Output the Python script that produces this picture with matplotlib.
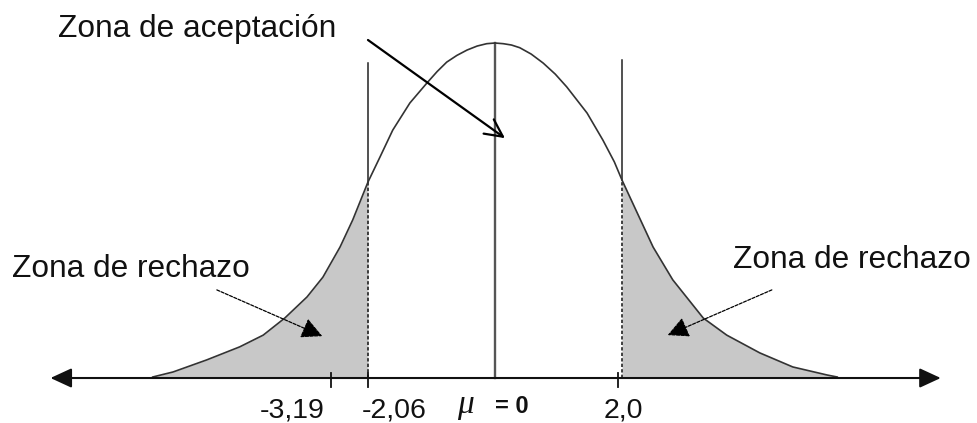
import numpy as np
import matplotlib
matplotlib.use("Agg")
import matplotlib.pyplot as plt

# ---- data (schematic units: x in "z-like" units, y = relative height) ----
curve_x = [-5.39, -5.07, -4.54, -4.02, -3.65, -3.31, -2.96, -2.71, -2.44, -2.24, -2.0,
           -1.81, -1.61, -1.34, -1.07, -0.91, -0.76, -0.60, -0.44, -0.28, -0.13, 0.0, 0.13,
           0.26, 0.39, 0.57, 0.76, 0.95, 1.13, 1.45, 1.70, 1.88, 2.0, 2.24, 2.49, 2.80, 3.28,
           3.65, 4.17, 4.69, 5.23, 5.39]
curve_y = [0.003, 0.018, 0.054, 0.093, 0.128, 0.179, 0.242, 0.301, 0.391, 0.472, 0.585,
           0.660, 0.740, 0.821, 0.881, 0.915, 0.943, 0.963, 0.979, 0.991, 0.998, 1.0, 0.998,
           0.994, 0.986, 0.967, 0.940, 0.907, 0.869, 0.791, 0.710, 0.645, 0.591, 0.493, 0.391,
           0.293, 0.179, 0.128, 0.075, 0.033, 0.009, 0.003]

crit_left = -2.0          # position of left critical line
crit_right = 2.0          # position of right critical line
crit_tops = [0.940, 0.949]

tick_pos = [-2.58, -2.0, 1.94]
tick_labels = ["-3,19", "-2,06", "2,0"]
tick_label_x = [-3.20, -1.59, 2.02]

axis_ends = [-7.0, 7.02]

title_text = "Zona de aceptación"
reject_text = "Zona de rechazo"

x = np.array(curve_x)
y = np.array(curve_y)

fig = plt.figure(figsize=(9.77, 4.23), dpi=100)
ax = fig.add_axes([0, 0, 1, 1])
ax.set_xlim(-7.795, 7.591)
ax.set_ylim(-0.1343, 1.1284)
ax.axis("off")

FONT = "Liberation Sans"

# shaded rejection regions
ax.fill_between(x, 0, y, where=x <= crit_left, color="#c8c8c8", lw=0, zorder=1)
ax.fill_between(x, 0, y, where=x >= crit_right, color="#c8c8c8", lw=0, zorder=1)

# curve
ax.plot(x, y, color="#333333", lw=1.2, zorder=3)

# center line
ax.plot([0, 0], [0, 1.0], color="#555555", lw=1.7, zorder=2)

# critical lines: solid above curve, dotted inside shading
yl = np.interp(crit_left, x, y)
yr = np.interp(crit_right, x, y)
ax.plot([crit_left, crit_left], [yl, crit_tops[0]], color="#222222", lw=1.1, zorder=2)
ax.plot([crit_right, crit_right], [yr, crit_tops[1]], color="#222222", lw=1.1, zorder=2)
ax.plot([crit_left, crit_left], [0, yl], color="#222222", lw=1.2, ls=(0, (2.0, 1.3)), zorder=2)
ax.plot([crit_right, crit_right], [0, yr], color="#222222", lw=1.2, ls=(0, (2.0, 1.3)), zorder=2)

# x axis with arrowheads both ends
ax.annotate("", xy=(axis_ends[0], 0), xytext=(axis_ends[1], 0),
            arrowprops=dict(arrowstyle="<|-|>,head_length=0.65,head_width=0.3",
                            mutation_scale=20, color="#111111", lw=1.5,
                            shrinkA=0, shrinkB=0), zorder=4)

# ticks
for tp in tick_pos:
    ax.plot([tp, tp], [-0.027, 0.015], color="#111111", lw=1.3, zorder=4)

# tick labels
for lx, lab in zip(tick_label_x, tick_labels):
    ax.text(lx, -0.119, lab, ha="center", va="baseline", fontsize=20.5,
            family=FONT, color="#111111")

ax.text(-0.47, -0.104, "\u03bc", ha="center", va="baseline", fontsize=24,
        family="Liberation Serif", style="italic", color="#111111")
ax.text(0.27, -0.104, "= 0", ha="center", va="baseline", fontsize=17,
        family=FONT, weight="bold", color="#111111")

# titles
ax.text(-6.88, 1.018, title_text, ha="left", va="baseline", fontsize=22.8,
        family=FONT, color="#111111")
ax.text(-7.61, 0.301, reject_text, ha="left", va="baseline", fontsize=22.8,
        family=FONT, color="#111111")
ax.text(3.75, 0.328, reject_text, ha="left", va="baseline", fontsize=22.8,
        family=FONT, color="#111111")

# main arrow
ax.annotate("", xy=(0.157, 0.716), xytext=(-2.0, 1.009),
            arrowprops=dict(arrowstyle="->,head_length=0.7,head_width=0.35",
                            mutation_scale=18, color="black", lw=1.6,
                            shrinkA=0, shrinkB=0), zorder=5)

# rejection arrows
ax.annotate("", xy=(-2.72, 0.125), xytext=(-4.38, 0.263),
            arrowprops=dict(arrowstyle="-|>,head_length=0.8,head_width=0.4",
                            mutation_scale=16, color="black", lw=0.9,
                            ls=(0, (2.5, 1.2)), shrinkA=0, shrinkB=0), zorder=5)
ax.annotate("", xy=(2.72, 0.128), xytext=(4.36, 0.263),
            arrowprops=dict(arrowstyle="-|>,head_length=0.8,head_width=0.4",
                            mutation_scale=16, color="black", lw=0.9,
                            ls=(0, (2.5, 1.2)), shrinkA=0, shrinkB=0), zorder=5)

fig.savefig("out.png", dpi=100)
